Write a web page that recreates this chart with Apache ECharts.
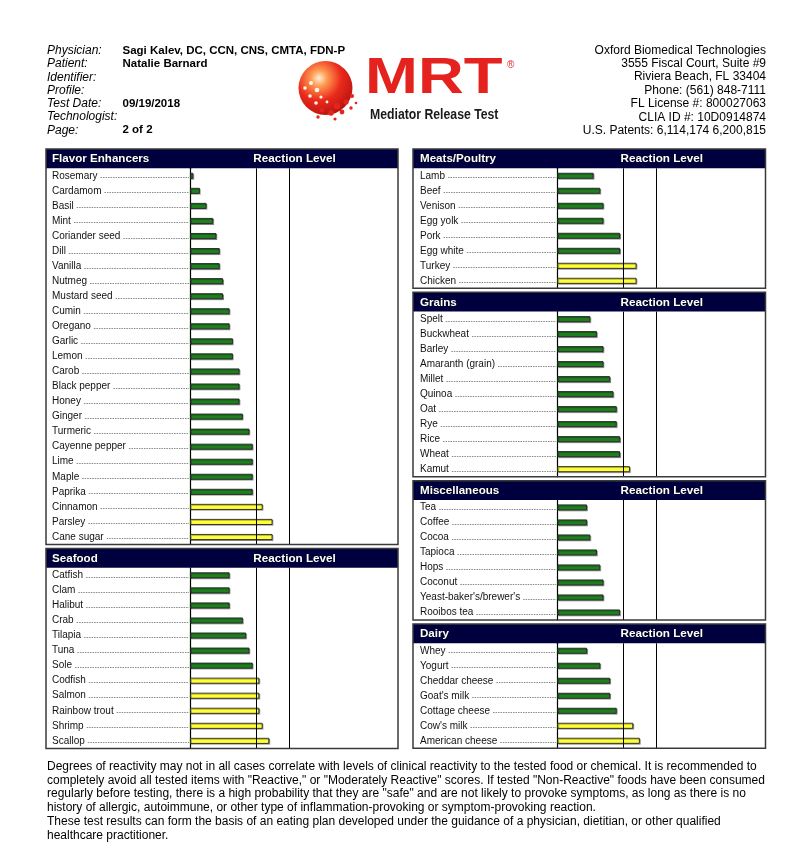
<!DOCTYPE html>
<html><head><meta charset="utf-8">
<script src="https://cdn.jsdelivr.net/npm/echarts@6/dist/echarts.min.js"></script>
<style>html,body{margin:0;padding:0;background:#fff}#c{width:812px;height:862px}</style>
</head><body><div id="c"></div>
<script>
// ---------------- DATA ----------------
const flavorNames = ['Rosemary','Cardamom','Basil','Mint','Coriander seed','Dill','Vanilla','Nutmeg','Mustard seed','Cumin','Oregano','Garlic','Lemon','Carob','Black pepper','Honey','Ginger','Turmeric','Cayenne pepper','Lime','Maple','Paprika','Cinnamon','Parsley','Cane sugar'];
const flavorValues = [1,3,5,7,8,9,9,10,10,12,12,13,13,15,15,15,16,18,19,19,19,19,22,25,25];
const seafoodNames = ['Catfish','Clam','Halibut','Crab','Tilapia','Tuna','Sole','Codfish','Salmon','Rainbow trout','Shrimp','Scallop'];
const seafoodValues = [12,12,12,16,17,18,19,21,21,21,22,24];
const meatNames = ['Lamb','Beef','Venison','Egg yolk','Pork','Egg white','Turkey','Chicken'];
const meatValues = [11,13,14,14,19,19,24,24];
const grainNames = ['Spelt','Buckwheat','Barley','Amaranth (grain)','Millet','Quinoa','Oat','Rye','Rice','Wheat','Kamut'];
const grainValues = [10,12,14,14,16,17,18,18,19,19,22];
const miscNames = ['Tea','Coffee','Cocoa','Tapioca','Hops','Coconut',"Yeast-baker's/brewer's",'Rooibos tea'];
const miscValues = [9,9,10,12,13,14,14,19];
const dairyNames = ['Whey','Yogurt','Cheddar cheese',"Goat's milk",'Cottage cheese',"Cow's milk",'American cheese'];
const dairyValues = [9,13,16,16,18,23,25];
const THRESHOLDS = [20, 30];
const AXIS_MAX = 63;

const headerLabels = ['Physician:','Patient:','Identifier:','Profile:','Test Date:','Technologist:','Page:'];
const headerValues = ['Sagi Kalev, DC, CCN, CNS, CMTA, FDN-P','Natalie Barnard','','','09/19/2018','','2 of 2'];
const labInfo = ['Oxford Biomedical Technologies','3555 Fiscal Court, Suite #9','Riviera Beach, FL 33404','Phone: (561) 848-7111','FL License #: 800027063','CLIA ID #: 10D0914874','U.S. Patents: 6,114,174 6,200,815'];
const footerLines = [
 'Degrees of reactivity may not in all cases correlate with levels of clinical reactivity to the tested food or chemical. It is recommended to',
 'completely avoid all tested items with "Reactive," or "Moderately Reactive" scores. If tested "Non-Reactive" foods have been consumed',
 'regularly before testing, there is a high probability that they are "safe" and are not likely to provoke symptoms, as long as there is no',
 'history of allergic, autoimmune, or other type of inflammation-provoking or symptom-provoking reaction.',
 'These test results can form the basis of an eating plan developed under the guidance of a physician, dietitian, or other qualified',
 'healthcare practitioner.'
];

// ---------------- LAYOUT ----------------
const FONT = 'Liberation Sans';
const panels = [
  {title:'Flavor Enhancers', names:flavorNames, values:flavorValues, col:'L'},
  {title:'Seafood', names:seafoodNames, values:seafoodValues, col:'L'},
  {title:'Meats/Poultry', names:meatNames, values:meatValues, col:'R'},
  {title:'Grains', names:grainNames, values:grainValues, col:'R'},
  {title:'Miscellaneous', names:miscNames, values:miscValues, col:'R'},
  {title:'Dairy', names:dairyNames, values:dairyValues, col:'R'}
];
const COLS = {
  L: {x:46, labelX:52, axisX:190, right:398, top:149, bottom:748.4},
  R: {x:413, labelX:420, axisX:557.3, right:765.5, top:149, bottom:748.3}
};
const HEADER_H = 19.3, GAP = 4, PX = 3.3;
['L','R'].forEach(k => {
  const c = COLS[k];
  const ps = panels.filter(p => p.col === k);
  const rows = ps.reduce((s,p) => s + p.names.length, 0);
  const rowH = (c.bottom - c.top - ps.length*HEADER_H - (ps.length-1)*GAP) / rows;
  let y = c.top;
  ps.forEach(p => {
    p.top = y; p.bodyTop = y + HEADER_H; p.bodyH = p.names.length*rowH;
    y = p.bodyTop + p.bodyH + GAP;
  });
});

const mctx = document.createElement('canvas').getContext('2d');
mctx.font = '10px "' + FONT + '"';
function tw(s){ return mctx.measureText(s).width; }

function barColor(v){
  if (v < THRESHOLDS[0]) return '#1f7f1f';
  if (v < THRESHOLDS[1]) return '#ffff38';
  return '#e02020';
}

const grid = [], xAxis = [], yAxis = [], series = [], graphic = [];
panels.forEach((p, i) => {
  const c = COLS[p.col];
  grid.push({left: c.axisX, top: p.bodyTop, width: AXIS_MAX*PX, height: p.bodyH, containLabel: false});
  xAxis.push({gridIndex:i, type:'value', min:0, max:AXIS_MAX, show:false});
  yAxis.push({gridIndex:i, type:'category', inverse:true, data:p.names,
    axisLine:{show:true, lineStyle:{color:'#000', width:1.2}},
    axisTick:{show:false},
    axisLabel:{interval:0, align:'left', margin:c.axisX - c.labelX, fontSize:10, fontFamily:FONT, color:'#111'},
    splitLine:{show:false}});
  series.push({type:'bar', xAxisIndex:i, yAxisIndex:i, barWidth:6, silent:true,
    data: p.values.map(v => ({value:v, itemStyle:{color:barColor(v)}})),
    itemStyle:{borderColor:'#222', borderWidth:0.9, shadowColor:'rgba(0,0,0,0.3)', shadowOffsetX:1, shadowOffsetY:1, shadowBlur:0.5},
    markLine:{silent:true, symbol:['none','none'], label:{show:false},
      lineStyle:{color:'#000', width:1, type:'solid'},
      data: THRESHOLDS.map(t => ({xAxis:t}))},
    animation:false});
  const labelX = c.labelX;
  series.push({type:'custom', xAxisIndex:i, yAxisIndex:i, clip:false, silent:true,
    data: p.names.map((n, j) => [0, j]),
    encode:{x:0, y:1},
    renderItem: (params, api) => {
      const pt = api.coord([0, api.value(1)]);
      const x0 = labelX + tw(p.names[params.dataIndex]) + 3;
      const y = Math.round(pt[1] + 1.5) + 0.5;
      return {type:'line', shape:{x1:x0, y1:y, x2:pt[0]-1, y2:y},
        style:{stroke:'#8a8a8a', lineWidth:1.2, lineDash:[1.5,1]}};
    },
    animation:false});
  // panel header + frame
  graphic.push({type:'rect', shape:{x:c.x, y:p.top, width:c.right-c.x, height:HEADER_H}, style:{fill:'#00003f'}, z:10});
  graphic.push({type:'text', x:c.labelX, y:p.top + HEADER_H/2 + 0.5, z:11,
    style:{text:p.title, font:'bold 11.6px "'+FONT+'"', fill:'#fff', align:'left', verticalAlign:'middle', textShadowColor:'#000', textShadowBlur:2}});
  graphic.push({type:'text', x:c.axisX + 63.3, y:p.top + HEADER_H/2 + 0.5, z:11,
    style:{text:'Reaction Level', font:'bold 11.7px "'+FONT+'"', fill:'#fff', align:'left', verticalAlign:'middle', textShadowColor:'#000', textShadowBlur:2}});
  graphic.push({type:'rect', shape:{x:c.x, y:p.top, width:c.right-c.x, height:HEADER_H + p.bodyH}, style:{fill:'none', stroke:'#3a3a3a', lineWidth:1.5}, z:12});
});

// header block
const hy = [50.7, 64, 77.3, 90.5, 103.8, 117, 130.3];
headerLabels.forEach((t, i) => {
  graphic.push({type:'text', x:47, y:hy[i], style:{text:t, font:'italic 12px "'+FONT+'"', fill:'#000', align:'left', verticalAlign:'middle'}});
  if (headerValues[i]) graphic.push({type:'text', x:122.5, y:hy[i], style:{text:headerValues[i], font:'bold 11.5px "'+FONT+'"', fill:'#000', align:'left', verticalAlign:'middle'}});
});
const ry = [50.3, 63.7, 77, 90.3, 104, 117.3, 130.5];
labInfo.forEach((t, i) => {
  graphic.push({type:'text', x:766, y:ry[i], style:{text:t, font:'12px "'+FONT+'"', fill:'#000', align:'right', verticalAlign:'middle'}});
});

// logo
graphic.push({type:'circle', shape:{cx:325.5, cy:88, r:27}, style:{fill:{type:'radial', x:0.38, y:0.32, r:0.75,
  colorStops:[{offset:0,color:'#fff0d8'},{offset:0.2,color:'#ff9a50'},{offset:0.55,color:'#ea2a1c'},{offset:1,color:'#b41010'}]}}});
[[305,88,1.8],[311,83,2],[317,90,2.3],[310,96,1.8],[321,97,1.6],[316,103,1.8],[327,102,1.4]].forEach(d =>
  graphic.push({type:'circle', shape:{cx:d[0], cy:d[1], r:d[2]}, style:{fill:'#fff4ec'}}));
[[337,106,3.2],[346,102,2.6],[352,96,2.1],[342,112,2.4],[331,113,2.8],[322,110,2.2],[351,108,1.7],[335,119,1.6],[318,117,1.7],[356,103,1.3]].forEach(d =>
  graphic.push({type:'circle', shape:{cx:d[0], cy:d[1], r:d[2]}, style:{fill:'#e3261d'}}));
graphic.push({type:'text', x:365, y:79.5, scaleX:1.27, style:{text:'MRT', font:'bold 50px "'+FONT+'"', fill:'#e4231f', align:'left', verticalAlign:'middle'}});
graphic.push({type:'text', x:507, y:65, style:{text:'®', font:'10px "'+FONT+'"', fill:'#e4231f', align:'left', verticalAlign:'middle'}});
graphic.push({type:'text', x:370, y:115.5, scaleX:0.875, style:{text:'Mediator Release Test', font:'bold 14px "'+FONT+'"', fill:'#1a1a1a', align:'left', verticalAlign:'middle'}});

// footer
const fy = [766.5, 780.3, 794, 807.8, 821.5, 835.3];
footerLines.forEach((t, i) => {
  graphic.push({type:'text', x:47, y:fy[i], style:{text:t, font:'12px "'+FONT+'"', fill:'#000', align:'left', verticalAlign:'middle'}});
});

const chart = echarts.init(document.getElementById('c'), null, {renderer:'canvas'});
chart.setOption({animation:false, backgroundColor:'#fff', grid, xAxis, yAxis, series, graphic});
</script>
</body></html>
